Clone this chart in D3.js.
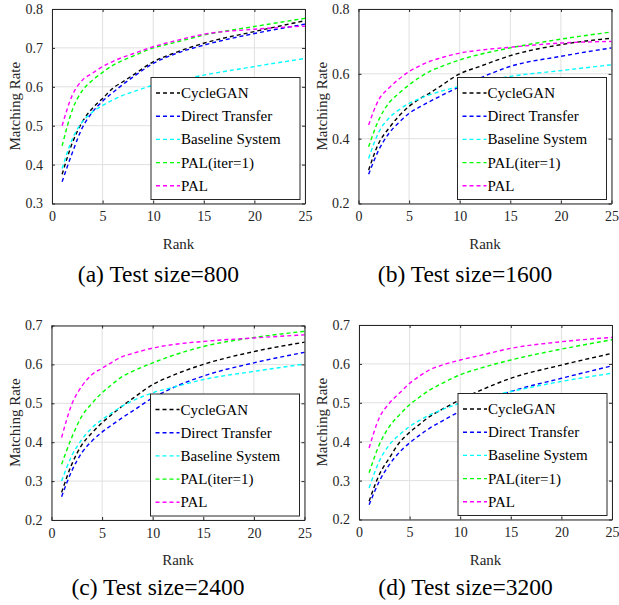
<!DOCTYPE html>
<html>
<head>
<meta charset="utf-8">
<script src="https://cdn.jsdelivr.net/npm/d3@7/dist/d3.min.js"></script>
<style>
  body { margin: 0; background: #fff; }
  svg { display: block; }
</style>
</head>
<body>
<svg id="chart" width="619" height="605"></svg>
<script>
const ranks = [1, 2, 3, 4, 5, 6, 7, 8, 10, 12, 15, 20, 25];
const seriesNames = ['CycleGAN', 'Direct Transfer', 'Baseline System', 'PAL(iter=1)', 'PAL'];
const xTicks = [0, 5, 10, 15, 20, 25];

// (a) test size 800
const a_cyclegan = [0.375, 0.455, 0.51, 0.545, 0.57, 0.596, 0.613, 0.63, 0.664, 0.686, 0.712, 0.742, 0.77];
const a_direct   = [0.356, 0.43, 0.495, 0.535, 0.563, 0.585, 0.606, 0.625, 0.66, 0.683, 0.707, 0.737, 0.761];
const a_baseline = [0.39, 0.465, 0.51, 0.535, 0.552, 0.566, 0.578, 0.587, 0.604, 0.614, 0.63, 0.652, 0.673];
const a_pal1     = [0.448, 0.54, 0.59, 0.617, 0.637, 0.655, 0.668, 0.679, 0.70, 0.713, 0.733, 0.755, 0.776];
const a_pal      = [0.50, 0.578, 0.617, 0.635, 0.652, 0.665, 0.676, 0.685, 0.703, 0.717, 0.735, 0.748, 0.756];

// (b) test size 1600
const b_cyclegan = [0.303, 0.386, 0.432, 0.47, 0.50, 0.522, 0.54, 0.56, 0.60, 0.623, 0.656, 0.69, 0.71];
const b_direct   = [0.29, 0.365, 0.416, 0.45, 0.478, 0.497, 0.514, 0.53, 0.56, 0.587, 0.623, 0.654, 0.68];
const b_baseline = [0.339, 0.42, 0.463, 0.489, 0.509, 0.523, 0.535, 0.545, 0.561, 0.574, 0.592, 0.61, 0.628];
const b_pal1     = [0.375, 0.458, 0.51, 0.54, 0.566, 0.588, 0.607, 0.62, 0.643, 0.66, 0.68, 0.707, 0.729];
const b_pal      = [0.442, 0.52, 0.556, 0.584, 0.607, 0.624, 0.638, 0.648, 0.664, 0.673, 0.682, 0.695, 0.70];

// (c) test size 2400
const c_cyclegan = [0.271, 0.343, 0.393, 0.424, 0.45, 0.472, 0.493, 0.512, 0.548, 0.572, 0.60, 0.633, 0.657];
const c_direct   = [0.26, 0.326, 0.373, 0.403, 0.426, 0.445, 0.463, 0.48, 0.514, 0.54, 0.57, 0.604, 0.631];
const c_baseline = [0.30, 0.365, 0.407, 0.437, 0.458, 0.476, 0.493, 0.506, 0.527, 0.541, 0.561, 0.582, 0.601];
const c_pal1     = [0.343, 0.412, 0.467, 0.50, 0.527, 0.549, 0.569, 0.582, 0.604, 0.623, 0.646, 0.669, 0.685];
const c_pal      = [0.412, 0.497, 0.544, 0.574, 0.59, 0.606, 0.62, 0.628, 0.642, 0.651, 0.659, 0.668, 0.676];

// (d) test size 3200
const d_cyclegan = [0.247, 0.315, 0.358, 0.398, 0.424, 0.445, 0.465, 0.48, 0.508, 0.532, 0.563, 0.597, 0.627];
const d_direct   = [0.238, 0.298, 0.341, 0.373, 0.397, 0.417, 0.435, 0.45, 0.478, 0.501, 0.529, 0.563, 0.595];
const d_baseline = [0.281, 0.35, 0.392, 0.418, 0.439, 0.455, 0.469, 0.48, 0.499, 0.512, 0.529, 0.555, 0.576];
const d_pal1     = [0.32, 0.392, 0.439, 0.469, 0.495, 0.515, 0.533, 0.547, 0.572, 0.589, 0.61, 0.638, 0.662];
const d_pal      = [0.384, 0.461, 0.499, 0.525, 0.55, 0.569, 0.585, 0.595, 0.61, 0.622, 0.64, 0.657, 0.668];

const colors = ['#000000', '#0000ff', '#00ffff', '#00ff00', '#ff00ff'];

const panels = [
  { caption: '(a) Test size=800',  x: 52,    y: 9,     yDomain: [0.3, 0.8], yTicks: [0.3, 0.4, 0.5, 0.6, 0.7, 0.8], capY: 282,
    series: [a_cyclegan, a_direct, a_baseline, a_pal1, a_pal] },
  { caption: '(b) Test size=1600', x: 358.5, y: 9,     yDomain: [0.2, 0.8], yTicks: [0.2, 0.4, 0.6, 0.8], capY: 282,
    series: [b_cyclegan, b_direct, b_baseline, b_pal1, b_pal] },
  { caption: '(c) Test size=2400', x: 51.5,  y: 325.5, yDomain: [0.2, 0.7], yTicks: [0.2, 0.3, 0.4, 0.5, 0.6, 0.7], capY: 595,
    series: [c_cyclegan, c_direct, c_baseline, c_pal1, c_pal] },
  { caption: '(d) Test size=3200', x: 359,   y: 325,   yDomain: [0.2, 0.7], yTicks: [0.2, 0.3, 0.4, 0.5, 0.6, 0.7], capY: 595,
    series: [d_cyclegan, d_direct, d_baseline, d_pal1, d_pal] }
];

const W = 253, H = 194.5;
const axisColor = '#262626';
const FONT = 'Liberation Serif';
const svg = d3.select('#chart').attr('font-family', FONT);

function serif(sel, size) {
  return sel.attr('font-family', FONT).style('font-family', FONT).style('font-size', size + 'px');
}

panels.forEach(p => {
  const g = svg.append('g').attr('transform', `translate(${p.x},${p.y})`);
  const x = d3.scaleLinear().domain([0, 25]).range([0, W]);
  const y = d3.scaleLinear().domain(p.yDomain).range([H, 0]);

  // grid
  g.append('g').selectAll('line').data(xTicks).join('line')
    .attr('x1', d => x(d)).attr('x2', d => x(d))
    .attr('y1', 0).attr('y2', H)
    .attr('stroke', '#e0e0e0').attr('stroke-width', 1);
  g.append('g').selectAll('line').data(p.yTicks).join('line')
    .attr('x1', 0).attr('x2', W)
    .attr('y1', d => y(d)).attr('y2', d => y(d))
    .attr('stroke', '#e0e0e0').attr('stroke-width', 1);

  // curves
  const line = d3.line()
    .x((d, i) => x(ranks[i]))
    .y(d => y(d))
    .curve(d3.curveMonotoneX);
  p.series.forEach((s, k) => {
    g.append('path')
      .datum(s)
      .attr('fill', 'none')
      .attr('stroke', colors[k])
      .attr('stroke-width', 1.4)
      .attr('stroke-dasharray', '4,3')
      .attr('d', line);
  });

  // axes: MATLAB style inward ticks
  const fmt = d3.format('.1f');
  const bottom = g.append('g').attr('transform', `translate(0,${H})`)
    .call(d3.axisBottom(x).tickValues(xTicks).tickSizeInner(-3).tickSizeOuter(0).tickPadding(8));
  const top = g.append('g')
    .call(d3.axisTop(x).tickValues(xTicks).tickSizeInner(-3).tickSizeOuter(0).tickFormat(''));
  const left = g.append('g')
    .call(d3.axisLeft(y).tickValues(p.yTicks).tickFormat(fmt).tickSizeInner(-3).tickSizeOuter(0).tickPadding(9));
  const right = g.append('g').attr('transform', `translate(${W},0)`)
    .call(d3.axisRight(y).tickValues(p.yTicks).tickSizeInner(-3).tickSizeOuter(0).tickFormat(''));
  [bottom, top, left, right].forEach(a => {
    a.attr('font-family', FONT);
    a.select('.domain').attr('stroke', axisColor).attr('stroke-width', 1);
    a.selectAll('.tick line').attr('stroke', axisColor);
    serif(a.selectAll('text').attr('fill', axisColor), 14);
  });

  // axis labels
  serif(g.append('text'), 15)
    .attr('x', W / 2).attr('y', H + 45)
    .attr('text-anchor', 'middle')
    .attr('fill', axisColor)
    .text('Rank');
  serif(g.append('text'), 15)
    .attr('transform', `translate(-32,${H / 2}) rotate(-90)`)
    .attr('text-anchor', 'middle')
    .attr('fill', axisColor)
    .text('Matching Rate');

  // caption
  serif(svg.append('text'), 23.5)
    .attr('x', p.x + W / 2 - 20).attr('y', p.capY)
    .attr('text-anchor', 'middle')
    .attr('fill', '#000')
    .text(p.caption);

  // legend
  const lw = 149, lh = 122;
  const lg = g.append('g').attr('transform', `translate(${W - 5 - lw},${H - 4 - lh})`);
  lg.append('rect')
    .attr('width', lw).attr('height', lh)
    .attr('fill', '#fff')
    .attr('stroke', axisColor).attr('stroke-width', 1);
  seriesNames.forEach((name, k) => {
    const ry = 15.5 + k * 23.2;
    lg.append('line')
      .attr('x1', 5).attr('x2', 29)
      .attr('y1', ry).attr('y2', ry)
      .attr('stroke', colors[k])
      .attr('stroke-width', 1.4)
      .attr('stroke-dasharray', '4,3');
    serif(lg.append('text'), 15)
      .attr('x', 30).attr('y', ry + 5)
      .attr('fill', '#000')
      .text(name);
  });
});
</script>
</body>
</html>
